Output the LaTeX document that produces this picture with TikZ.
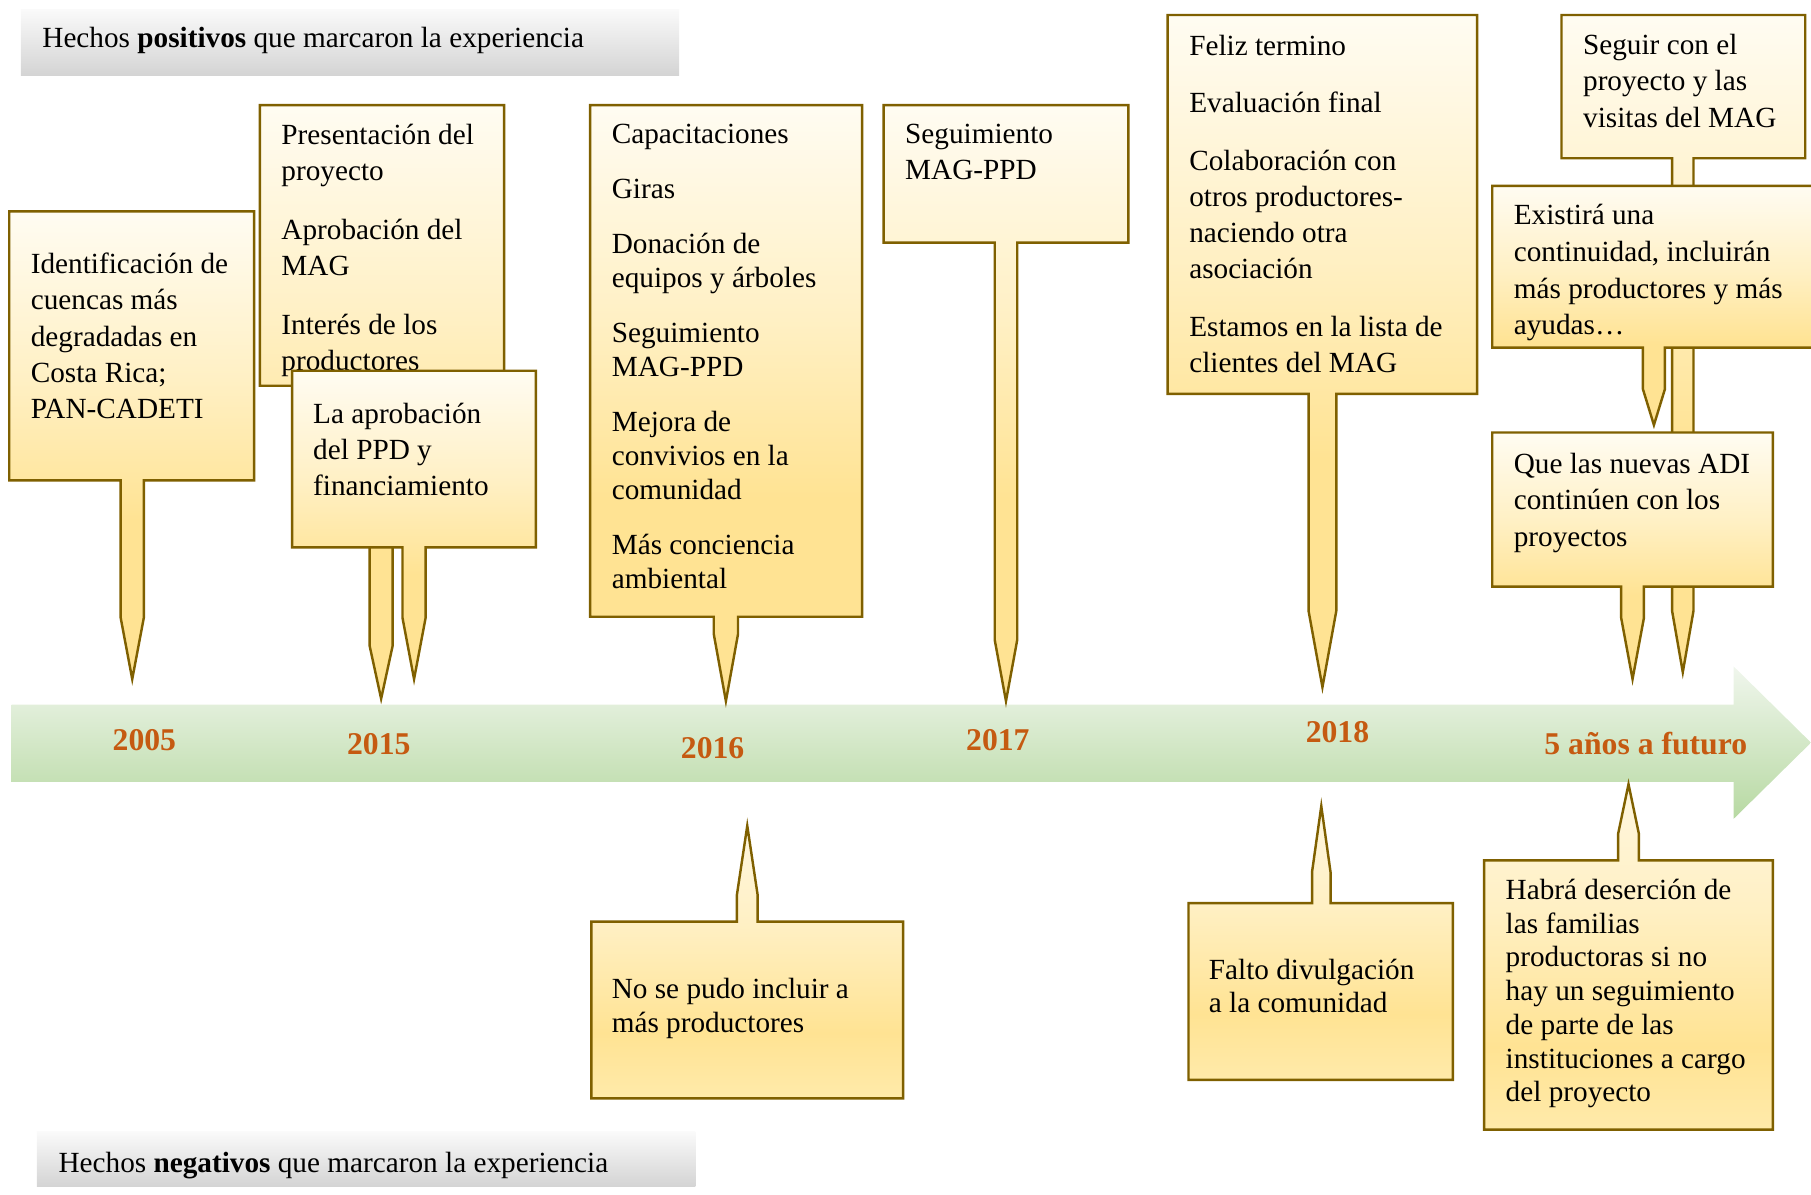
\documentclass[tikz,border=0pt]{standalone}
\usepackage{fontspec}
\setmainfont{Liberation Serif}
\usepackage{tikz}
\usetikzlibrary{calc}
\definecolor{calloutline}{RGB}{127, 96, 0}
\definecolor{calloutgold}{RGB}{255, 227, 147}
\definecolor{calloutmid}{RGB}{255, 240, 196}
\definecolor{calloutlight}{RGB}{255, 252, 242}
\definecolor{calloutpale}{RGB}{255, 247, 223}
\definecolor{calloutlow}{RGB}{255, 234, 170}
\definecolor{yearorange}{RGB}{197, 90, 17}
\definecolor{bandtop}{RGB}{240, 246, 237}
\definecolor{bandbottom}{RGB}{183, 217, 162}
\definecolor{headtop}{RGB}{250, 250, 250}
\definecolor{headbottom}{RGB}{212, 212, 212}

\pgfdeclareverticalshading{calldown}{100bp}{color(0bp)=(calloutgold); color(25bp)=(calloutgold); color(42bp)=(calloutgold); color(57bp)=(calloutmid); color(75bp)=(calloutlight); color(100bp)=(calloutlight)}
\pgfdeclareverticalshading{callup}{100bp}{color(0bp)=(calloutlow); color(25bp)=(calloutlow); color(37bp)=(calloutgold); color(57bp)=(calloutmid); color(75bp)=(calloutpale); color(100bp)=(calloutpale)}

% box x1,y1,x2,y2; stem at x #5, neck #6, tip #7, half width #8
\newcommand{\downcallout}[8]{%
  \path[pinbox, shading=calldown] (#1,#2) -- (#3,#2) -- (#3,#4) -- ({#5+#8},#4) -- ({#5+#8},#6) -- (#5,#7) -- ({#5-#8},#6) -- ({#5-#8},#4) -- (#1,#4) -- cycle;}
\newcommand{\upcallout}[8]{%
  \path[pinbox, shading=callup] (#1,#2) -- ({#5-#8},#2) -- ({#5-#8},#6) -- (#5,#7) -- ({#5+#8},#6) -- ({#5+#8},#2) -- (#3,#2) -- (#3,#4) -- (#1,#4) -- cycle;}

\begin{document}
\begin{tikzpicture}[x=0.01cm, y=-0.01cm,
    pinbox/.style={draw=calloutline, line width=0.6pt, shade},
    note/.style={anchor=north west, inner sep=0pt, align=left, font=\fontsize{7.2}{8.9}\selectfont},
    tightnote/.style={note, font=\fontsize{7.2}{8.3}\selectfont},
    year/.style={text=yearorange, font=\bfseries\fontsize{7.8}{9}\selectfont},
    headbar/.style={top color=headtop, bottom color=headbottom, draw=none},
    headtext/.style={anchor=west, inner sep=0pt, font=\fontsize{7.2}{8.9}\selectfont}]

    \useasboundingbox (0,0) rectangle (1568,1034);

    % headers
    \path[headbar] (18,8) rectangle (588,65);
    \node (positivos) [headtext] at (36,35) {Hechos \textbf{positivos} que marcaron la experiencia};
    \path[headbar] (32,980) rectangle (602,1027);
    \node (negativos) [headtext] at (50,1009) {Hechos \textbf{negativos} que marcaron la experiencia};

    % timeline
    \path[top color=bandtop, bottom color=bandbottom] (10,610) -- (1501,610) -- (1501,577) -- (1568,643) -- (1501,709) -- (1501,677) -- (10,677) -- cycle;
    \node (y2005) [year] at (125,641) {2005};
    \node (y2015) [year] at (328,644) {2015};
    \node (y2016) [year] at (617,648) {2016};
    \node (y2017) [year] at (864,641) {2017};
    \node (y2018) [year] at (1158,634) {2018};
    \node (futuro) [year] at (1425,644) {5 años a futuro};

    % positive facts
    \downcallout{8}{183}{220}{416}{114.5}{535}{588}{10}
    \node (cuencas) [note] at (26,218.5) {Identificación de\\cuencas más\\degradadas en\\Costa Rica;\\PAN-CADETI};
    \downcallout{225}{91}{436.5}{334}{330}{559}{605}{10}
    \node (presenta) [note, font=\fontsize{7.2}{9}\selectfont] at (243,106.5) {Presentación del\\proyecto\\[5.4pt]Aprobación del\\MAG\\[5.4pt]Interés de los\\productores};
    \downcallout{253}{321}{464}{474}{358.5}{535}{588}{10}
    \node (ppd) [note] at (270.5,348.5) {La aprobación\\del PPD y\\financiamiento};
    \downcallout{511}{91}{746.5}{534}{628.5}{549}{607}{10.5}
    \node (capacita) [note, font=\fontsize{7.2}{8.4}\selectfont] at (529,107) {Capacitaciones\\[5.1pt]Giras\\[5.1pt]Donación de\\equipos y árboles\\[5.1pt]Seguimiento\\MAG-PPD\\[5.1pt]Mejora de\\convivios en la\\comunidad\\[5.1pt]Más conciencia\\ambiental};
    \downcallout{765}{91}{977}{210}{871}{554}{607}{9.75}
    \node (seguimiento) [note] at (783,106.5) {Seguimiento\\MAG-PPD};
    \downcallout{1011}{13}{1279}{341}{1145}{529}{595}{12}
    \node (feliz) [note] at (1029,29.5) {Feliz termino\\[5.3pt]Evaluación final\\[5.3pt]Colaboración con\\otros productores-\\naciendo otra\\asociación\\[5.3pt]Estamos en la lista de\\clientes del MAG};
    \downcallout{1352}{13}{1563}{137}{1457}{529}{582}{9.25}
    \node (seguir) [note, font=\fontsize{7.2}{9}\selectfont] at (1370,28.5) {Seguir con el\\proyecto y las\\visitas del MAG};
    \downcallout{1292}{161}{1580}{301}{1432}{337}{368}{9.5}
    \node (existira) [note, font=\fontsize{7.2}{9}\selectfont] at (1310,176.5) {Existirá una\\continuidad, incluirán\\más productores y más\\ayudas…};
    \downcallout{1292}{374.5}{1535}{508}{1413.5}{535}{588}{9.85}
    \node (nuevasadi) [note, font=\fontsize{7.2}{9}\selectfont] at (1310,391.5) {Que las nuevas ADI\\continúen con los\\proyectos};

    % negative facts
    \upcallout{512}{798}{782}{951}{647}{775}{715}{9}
    \node (noincluir) [tightnote] at (529,846.5) {No se pudo incluir a\\más productores};
    \upcallout{1029}{782}{1258}{935}{1144}{755}{698}{8}
    \node (divulga) [tightnote] at (1046,829.5) {Falto divulgación\\a la comunidad};
    \upcallout{1285}{745}{1535}{978}{1410}{722}{679}{9}
    \node (desercion) [tightnote] at (1303,760.5) {Habrá deserción de\\las familias\\productoras si no\\hay un seguimiento\\de parte de las\\instituciones a cargo\\del proyecto};
\end{tikzpicture}
\end{document}
